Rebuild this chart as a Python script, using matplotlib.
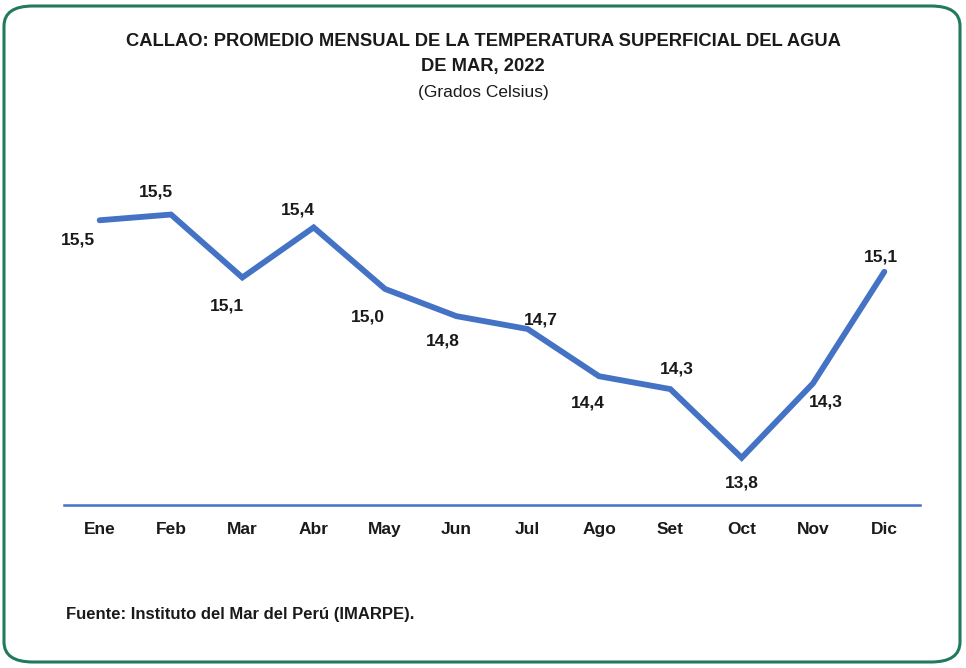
import matplotlib.pyplot as plt
from matplotlib.patches import FancyBboxPatch

plt.rcParams['font.family'] = ['Liberation Sans Narrow', 'Liberation Sans', 'DejaVu Sans']

months = ['Ene', 'Feb', 'Mar', 'Abr', 'May', 'Jun', 'Jul', 'Ago', 'Set', 'Oct', 'Nov', 'Dic']
temps = [15.46, 15.50, 15.06, 15.41, 14.98, 14.79, 14.70, 14.37, 14.28, 13.80, 14.32, 15.10]

# label offsets (pixels) relative to each point
offsets = [(-22, -20), (-15, 23), (-15, -29), (-16, 17), (-17, -28), (-14, -25),
           (13, 9), (-11, -27), (6, 20), (0, -25), (13, -19), (-3, 15)]

BLUE = '#4472C4'
TXT = '#1a1a1a'

fig = plt.figure(figsize=(9.66, 6.68), dpi=100)
W, H = 966, 668

border = FancyBboxPatch((4 / W, 6 / H), 956 / W, 656 / H,
                        boxstyle='round,pad=0,rounding_size=0.03',
                        transform=fig.transFigure, facecolor='none',
                        edgecolor='#217A5E', linewidth=2.2)
fig.patches.append(border)

ax = fig.add_axes([64 / W, (H - 505) / H, (920 - 64) / W, (505 - 143) / H])
x = list(range(len(months)))
ax.plot(x, temps, color=BLUE, linewidth=4.2, solid_capstyle='round', solid_joinstyle='miter')

for i, (v, (dx, dy)) in enumerate(zip(temps, offsets)):
    ax.annotate(f'{v:.1f}'.replace('.', ','), (i, v), xytext=(dx, dy),
                textcoords='offset pixels', ha='center', va='center',
                fontsize=12.5, fontweight='bold', color=TXT)

ax.set_xlim(-0.5, 11.5)
ax.set_ylim(13.47, 16.0)
ax.set_xticks(x)
ax.set_xticklabels(months, fontsize=12.5, fontweight='bold', color=TXT)
ax.tick_params(axis='x', length=0, pad=12)
ax.set_yticks([])
for s in ['top', 'left', 'right']:
    ax.spines[s].set_visible(False)
ax.spines['bottom'].set_color(BLUE)
ax.spines['bottom'].set_linewidth(1.8)
ax.patch.set_visible(False)

fig.text(0.5, 1 - 42 / H, 'CALLAO: PROMEDIO MENSUAL DE LA TEMPERATURA SUPERFICIAL DEL AGUA',
         ha='center', va='center', fontsize=13.2, fontweight='bold', color=TXT)
fig.text(0.5, 1 - 66 / H, 'DE MAR, 2022', ha='center', va='center',
         fontsize=13.2, fontweight='bold', color=TXT)
fig.text(0.5, 1 - 92 / H, '(Grados Celsius)', ha='center', va='center',
         fontsize=12.5, color=TXT)
fig.text(66 / W, 1 - 614 / H, 'Fuente: Instituto del Mar del Perú (IMARPE).',
         ha='left', va='center', fontsize=12, fontweight='bold', color=TXT)

fig.savefig('out.png', dpi=100)
